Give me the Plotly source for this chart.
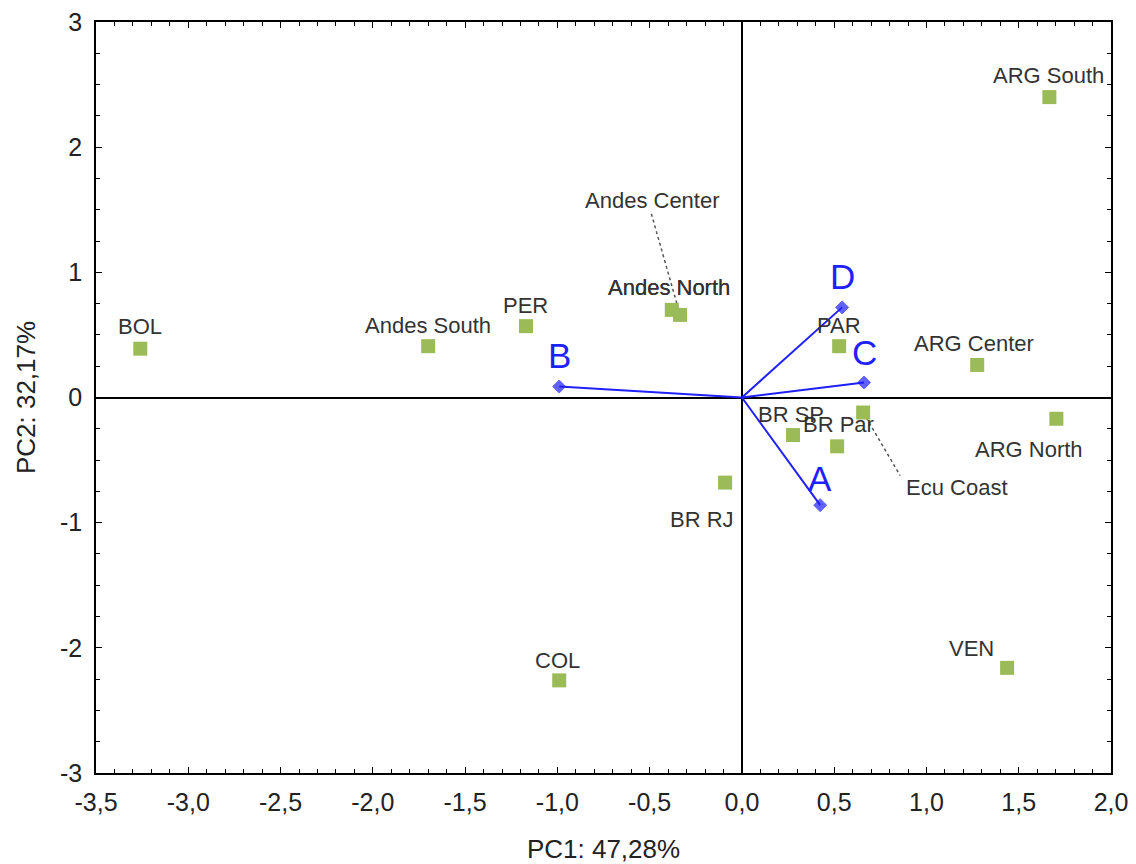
import plotly.graph_objects as go

# ---- data ----
names = ["BOL", "Andes South", "PER", "Andes North", "Andes Center", "PAR",
         "ARG Center", "ARG South", "ARG North", "BR SP", "BR Par", "Ecu Coast",
         "BR RJ", "COL", "VEN"]
pc1 = [-3.26, -1.70, -1.17, -0.38, -0.335, 0.527, 1.275, 1.666, 1.704,
       0.277, 0.516, 0.657, -0.091, -0.99, 1.437]
pc2 = [0.39, 0.41, 0.57, 0.70, 0.66, 0.41, 0.26, 2.40, -0.17,
       -0.30, -0.39, -0.12, -0.68, -2.26, -2.16]

vec_names = ["A", "B", "C", "D"]
vec_x = [0.424, -0.99, 0.662, 0.543]
vec_y = [-0.86, 0.088, 0.12, 0.72]

xtick_vals = [-3.5, -3.0, -2.5, -2.0, -1.5, -1.0, -0.5, 0.0, 0.5, 1.0, 1.5, 2.0]
xtick_text = ["-3,5", "-3,0", "-2,5", "-2,0", "-1,5", "-1,0", "-0,5", "0,0", "0,5", "1,0", "1,5", "2,0"]
ytick_vals = [-3, -2, -1, 0, 1, 2, 3]
ytick_text = ["-3", "-2", "-1", "0", "1", "2", "3"]

# ---- layout geometry / styling ----
W, H = 1128, 856
ML, MR, MT, MB = 88, 25, 14, 91
XR = [-3.5, 2.0]
YR = [-3, 3]
px_x = (W - ML - MR) / (XR[1] - XR[0])
px_y = (H - MT - MB) / (YR[1] - YR[0])

# label offsets in pixels (dx right, dy up)
label_off = {
    "BOL": (0, 22), "Andes South": (0, 21), "PER": (0, 21),
    "Andes North": (-3, 22), "Andes Center": (-28, 114), "PAR": (0, 21),
    "ARG Center": (-3, 21), "ARG South": (-1, 22), "ARG North": (-27, -31),
    "BR SP": (-2, 21), "BR Par": (1, 22), "Ecu Coast": (94, -75),
    "BR RJ": (-23, -37), "COL": (-2, 20), "VEN": (-36, 19),
}
# leader line end offsets in pixels (from point)
leader_off = {"Andes Center": (-29, 102), "Ecu Coast": (37, -63)}
letter_off = {"A": 27, "B": 31, "C": 30, "D": 31}

GREEN = "#9bbb59"
BLUE = "#1f1fff"
TXT = "#333333"
FONT = "Liberation Sans, Arial"

fig = go.Figure()

# vectors
for n, vx, vy in zip(vec_names, vec_x, vec_y):
    fig.add_trace(go.Scatter(x=[0, vx], y=[0, vy], mode="lines+markers",
                             line=dict(color=BLUE, width=2),
                             marker=dict(symbol="diamond", size=[0, 10], color=BLUE,
                                         line=dict(color=BLUE, width=1)),
                             hoverinfo="skip", showlegend=False))
    fig.add_annotation(x=vx, y=vy, text=n, showarrow=False, yshift=letter_off[n],
                       font=dict(family=FONT, size=35, color=BLUE))

# leader lines
for i, n in enumerate(names):
    if n in leader_off:
        dx, dy = leader_off[n]
        fig.add_trace(go.Scatter(x=[pc1[i], pc1[i] + dx / px_x], y=[pc2[i], pc2[i] + dy / px_y],
                                 mode="lines", line=dict(color="#555555", width=1.5, dash="dot"),
                                 hoverinfo="skip", showlegend=False))

# points
fig.add_trace(go.Scatter(x=pc1, y=pc2, mode="markers", text=names,
                         marker=dict(symbol="square", size=14, color=GREEN),
                         showlegend=False))

for i, n in enumerate(names):
    dx, dy = label_off[n]
    fig.add_annotation(x=pc1[i], y=pc2[i], text=n, showarrow=False, xshift=dx, yshift=dy,
                       font=dict(family=FONT, size=22, color=TXT))
    if n == "Andes North":
        fig.add_annotation(x=pc1[i], y=pc2[i], text=n, showarrow=False, xshift=dx + 0.7, yshift=dy,
                           font=dict(family=FONT, size=22, color=TXT))

fig.update_layout(
    width=W, height=H,
    margin=dict(l=ML, r=MR, t=MT, b=MB),
    plot_bgcolor="white", paper_bgcolor="white",
    xaxis=dict(range=XR, tickvals=xtick_vals, ticktext=xtick_text, automargin=False,
               showgrid=False, zeroline=True, zerolinecolor="black", zerolinewidth=1.5,
               showline=True, linecolor="black", linewidth=1.5, mirror="ticks",
               ticks="inside", ticklen=6, tickcolor="black",
               ticklabelstandoff=6, ticklabeloverflow="allow",
               minor=dict(dtick=0.1, ticks="inside", ticklen=4, tickcolor="black", showgrid=False),
               tickfont=dict(family=FONT, size=25, color="#222222"),
               title=dict(text="PC1: 47,28%", standoff=27,
                          font=dict(family=FONT, size=26, color="#222222"))),
    yaxis=dict(range=YR, tickvals=ytick_vals, ticktext=ytick_text, automargin=False,
               showgrid=False, zeroline=True, zerolinecolor="black", zerolinewidth=1.5,
               showline=True, linecolor="black", linewidth=1.5, mirror="ticks",
               ticks="inside", ticklen=6, tickcolor="black",
               ticklabelstandoff=7, ticklabeloverflow="allow",
               minor=dict(dtick=0.25, ticks="inside", ticklen=4, tickcolor="black", showgrid=False),
               tickfont=dict(family=FONT, size=25, color="#222222"),
               title=dict(text="PC2: 32,17%", standoff=17,
                          font=dict(family=FONT, size=26, color="#222222"))),
)

fig.write_html("out.html")
